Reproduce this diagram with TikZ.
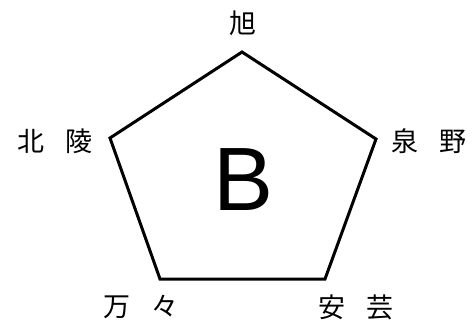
\documentclass[tikz,border=0pt]{standalone}
\usepackage{fontspec}
\setmainfont{Liberation Sans}
\newfontfamily\cjk{Noto Sans CJK JP}
\begin{document}
\begin{tikzpicture}[x=1pt,y=-1pt,
  lbl/.style={font=\cjk\fontsize{27}{30}\selectfont, inner sep=0pt},
  big/.style={font=\fontsize{90}{100}\selectfont, inner sep=0pt}]
\useasboundingbox (0,0) rectangle (473,322);
\coordinate (t) at (242,52);
\coordinate (r) at (376,139);
\coordinate (br) at (325,279);
\coordinate (bl) at (160,279);
\coordinate (l) at (110,138);
\draw[line width=3pt, line join=miter] (t) -- (r) -- (br) -- (bl) -- (l) -- cycle;
\node[big] (b) at (244,180) {B};
\node[lbl] (n1) at (243,23) {旭};
\node[lbl] (n2) at (55,141) {北\hspace{0.75em}陵};
\node[lbl] (n3) at (429,141) {泉\hspace{0.75em}野};
\node[lbl] (n4) at (141,307) {万\hspace{0.75em}々};
\node[lbl] (n5) at (356,307) {安\hspace{0.75em}芸};
\end{tikzpicture}
\end{document}
